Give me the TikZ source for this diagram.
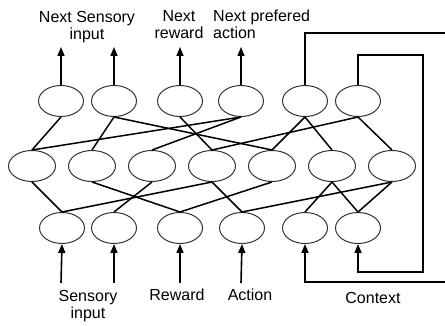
\documentclass[tikz,border=0pt]{standalone}
\usepackage{fontspec}
\setmainfont{Liberation Sans}
\usetikzlibrary{shapes.geometric,arrows.meta}
\begin{document}
\begin{tikzpicture}[x=1pt,y=-1pt,
  neuron/.style={ellipse,draw=black!80,line width=1pt,minimum width=45pt,minimum height=31pt,inner sep=0pt},
  link/.style={line width=1.5pt},
  flow/.style={line width=1.6pt,-{Triangle[length=9pt,width=7pt]}},
  loopline/.style={line width=1.5pt},
  lbl/.style={font=\fontsize{16}{17}\selectfont,inner sep=0pt}]
\useasboundingbox (0,0) rectangle (445,326);
\fill[white] (0,0) rectangle (445,326);
% top row
\node[neuron] (T1) at (61,101) {};
\node[neuron] (T2) at (114,101) {};
\node[neuron] (T3) at (180,101) {};
\node[neuron] (T4) at (241,101) {};
\node[neuron] (T5) at (305,101) {};
\node[neuron] (T6) at (358,101) {};
% middle row
\node[neuron,minimum width=47pt] (M1) at (32,166) {};
\node[neuron,minimum width=47pt] (M2) at (92,166) {};
\node[neuron,minimum width=47pt] (M3) at (152,166) {};
\node[neuron,minimum width=47pt] (M4) at (212,166) {};
\node[neuron,minimum width=47pt] (M5) at (272,166) {};
\node[neuron,minimum width=47pt] (M6) at (332,166) {};
\node[neuron,minimum width=47pt] (M7) at (392,166) {};
% bottom row
\node[neuron] (B1) at (62,228) {};
\node[neuron] (B2) at (114,228) {};
\node[neuron] (B3) at (180,228) {};
\node[neuron] (B4) at (242,228) {};
\node[neuron] (B5) at (305,228) {};
\node[neuron] (B6) at (358,228) {};
% top-middle links
\draw[link] (T1.south) -- (M1.north);
\draw[link] (T2.south) -- (M2.north);
\draw[link] (T2.south) -- (M5.north);
\draw[link] (M1.north) -- (T4.south);
\draw[link] (T3.south) -- (M4.north);
\draw[link] (M3.north) -- (T4.south);
\draw[link] (T5.south) -- (M5.north);
\draw[link] (T5.south) -- (M6.north);
\draw[link] (T6.south) -- (M4.north);
\draw[link] (T6.south) -- (M7.north);
% middle-bottom links
\draw[link] (M1.south) -- (B1.north);
\draw[link] (M2.south) -- (B3.north);
\draw[link] (M3.south) -- (B2.north);
\draw[link] (B1.north) -- (M4.south);
\draw[link] (M4.south) -- (B4.north);
\draw[link] (B3.north) -- (M5.south);
\draw[link] (B4.north) -- (M7.south);
\draw[link] (M6.south) -- (B5.north);
\draw[link] (M6.south) -- (B6.north);
\draw[link] (M7.south) -- (B6.north);
% output arrows
\coordinate (o1) at (61,47);
\coordinate (o2) at (114,47);
\coordinate (o3) at (180,47);
\coordinate (o4) at (241,47);
\draw[flow] (T1.north) -- (o1);
\draw[flow] (T2.north) -- (o2);
\draw[flow] (T3.north) -- (o3);
\draw[flow] (T4.north) -- (o4);
% input arrows
\coordinate (i1) at (61,283);
\coordinate (i2) at (114,283);
\coordinate (i3) at (180,283);
\coordinate (i4) at (241,283);
\draw[flow] (i1) -- (B1.south);
\draw[flow] (i2) -- (B2.south);
\draw[flow] (i3) -- (B3.south);
\draw[flow] (i4) -- (B4.south);
% context loops
\coordinate (p1) at (305,33);
\coordinate (p2) at (470,33);
\coordinate (p3) at (470,282);
\coordinate (p4) at (305,282);
\draw[flow] (T5.north) -- (p1) -- (p2) -- (p3) -- (p4) -- (B5.south);
\coordinate (q1) at (358,55);
\coordinate (q2) at (423,55);
\coordinate (q3) at (423,272);
\coordinate (q4) at (358,272);
\draw[flow] (T6.north) -- (q1) -- (q2) -- (q3) -- (q4) -- (B6.south);
% labels
\node[lbl,align=center] (L1) at (87,27) {Next Sensory\\input};
\node[lbl,align=center] (L2) at (179,25) {Next\\reward};
\node[lbl,align=left,anchor=west] (L3) at (213,24) {Next prefered\\action};
\node[lbl,align=center] (L4) at (88,306) {Sensory\\input};
\node[lbl] (L5) at (177,295) {Reward};
\node[lbl] (L6) at (250,295) {Action};
\node[lbl] (L7) at (373,298) {Context};
\end{tikzpicture}
\end{document}
